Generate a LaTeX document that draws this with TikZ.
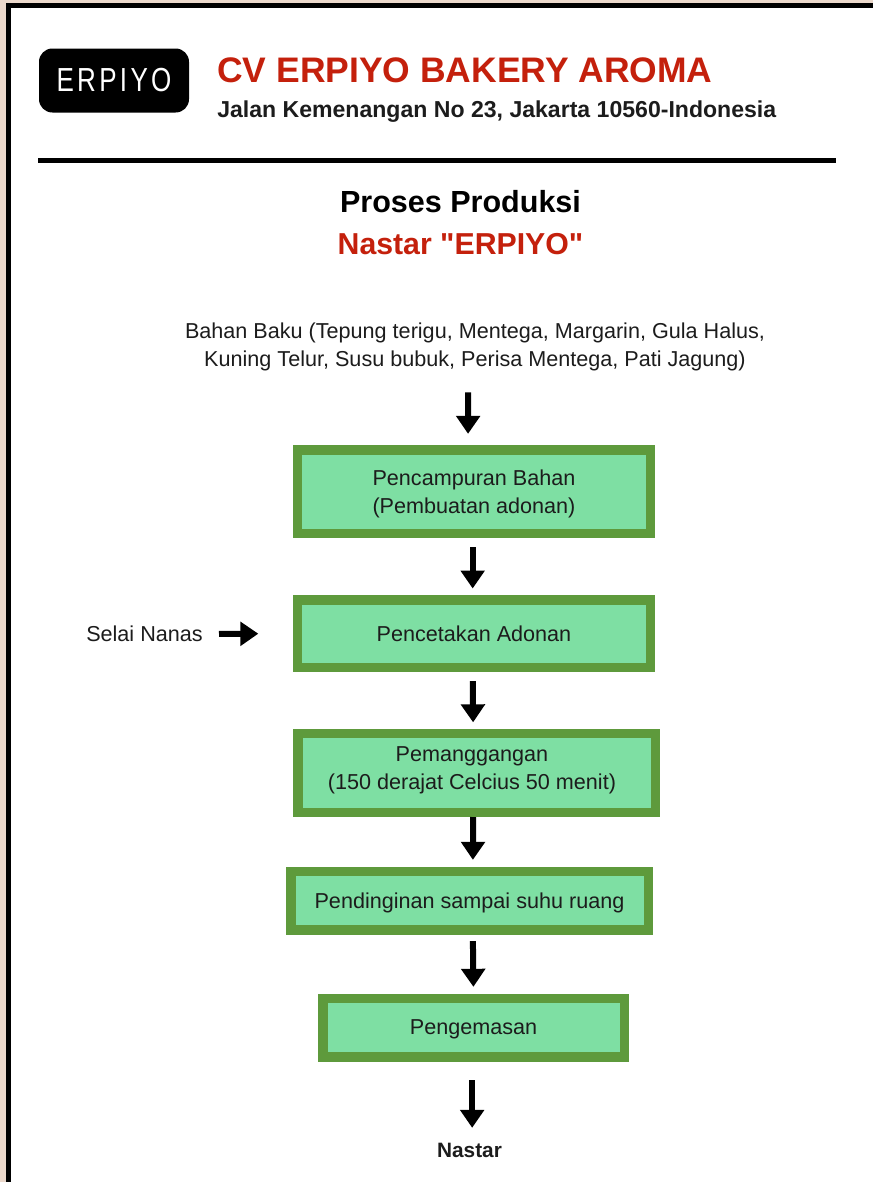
\documentclass[tikz,border=0pt]{standalone}
\usepackage{fontspec}
\setmainfont{Liberation Sans}
\newfontfamily\rawfont{Liberation Sans}
\newfontfamily\logofont[FakeStretch=0.78,LetterSpace=10]{Liberation Sans}
\usetikzlibrary{arrows.meta}
\definecolor{backcol}{HTML}{EBD8CB}
\definecolor{titlered}{HTML}{C4200C}
\definecolor{boxfill}{HTML}{7EDFA3}
\definecolor{boxline}{HTML}{5E9A3C}
\definecolor{textcol}{HTML}{1C1C1C}
\tikzset{
  prosesbox/.style={draw=boxline, fill=boxfill, line width=7pt, align=center,
    inner sep=0pt, text=textcol, text depth=0pt, font=\fontsize{16.2}{21}\selectfont},
  plain/.style={align=center, inner sep=0pt, text=textcol, font=\fontsize{16.2}{21}\selectfont},
  flow/.style={-{Triangle[length=13.5pt,width=17.5pt]}, line width=4.5pt, black}
}
\begin{document}
\begin{tikzpicture}[x=0.75pt, y=-0.75pt]
  \useasboundingbox (0, 0) rectangle (873, 1182);
  \fill[backcol] (0, 0) rectangle (873, 1182);
  \filldraw[fill=white, draw=black, line width=3.8pt] (8.5, 5.5) rectangle (880, 1200);

  % header
  \node[fill=black, rounded corners=10pt, minimum width=112.5pt, minimum height=48pt, inner sep=0pt,
    text=white, font=\logofont\fontsize{25}{25}\selectfont] (logo) at (114, 80.5) {ERPIYO};
  \node[anchor=west, inner sep=0pt, text=titlered, font=\fontsize{26.6}{26.6}\selectfont\bfseries]
    (company) at (217, 70) {CV ERPIYO BAKERY AROMA};
  \node[anchor=west, inner sep=0pt, text=textcol, font=\fontsize{17.3}{17.3}\selectfont\bfseries]
    (address) at (217, 112) {Jalan Kemenangan No 23, Jakarta 10560-Indonesia};
  \draw[line width=3.8pt, black] (38, 160.5) -- (836, 160.5);

  \node[inner sep=0pt, font=\fontsize{22.9}{22.9}\selectfont\bfseries] (judul) at (460.5, 202) {Proses Produksi};
  \node[inner sep=0pt, text=titlered, font=\rawfont\fontsize{22.7}{22.7}\selectfont\bfseries] (produk) at (460.5, 244) {Nastar "ERPIYO"};

  % boxes
  \node[plain, text depth=0pt] (bahan) at (475, 345) {Bahan Baku (Tepung terigu, Mentega, Margarin, Gula Halus,\\Kuning Telur, Susu bubuk, Perisa Mentega, Pati Jagung)};
  \node[prosesbox, minimum width=264.5pt, minimum height=62.5pt] (campur) at (474, 491.5) {Pencampuran Bahan\\(Pembuatan adonan)};
  \node[prosesbox, minimum width=264.5pt, minimum height=50.5pt] (cetak) at (474, 633.5) {Pencetakan Adonan};
  \node[prosesbox, text depth=7.2pt, minimum width=268pt, minimum height=59pt] (panggang) at (476.5, 773) {Pemanggangan\hspace*{6.8pt}\\(150 derajat Celcius 50 menit)\hspace*{6.8pt}};
  \node[prosesbox, minimum width=268pt, minimum height=44pt] (dingin) at (469.5, 900.5) {Pendinginan sampai suhu ruang};
  \node[prosesbox, minimum width=226pt, minimum height=44pt] (kemas) at (473.5, 1027.5) {Pengemasan};
  \node[plain, font=\fontsize{15.6}{15.6}\selectfont\bfseries] (nastar) at (469.5, 1150) {Nastar};
  \node[plain] (selai) at (144.5, 634) {Selai Nanas};

  % arrows
  \draw[flow, shorten <=19pt, shorten >=8.5pt] ([xshift=-5pt]bahan.south) -- ([xshift=-4.5pt]campur.north);
  \draw[flow, shorten <=7pt, shorten >=5pt] ([xshift=-1pt]campur.south) -- ([xshift=-1pt]cetak.north);
  \draw[flow, shorten <=7pt, shorten >=5pt] ([xshift=-1pt]cetak.south) -- ([xshift=-2.5pt]panggang.north);
  \draw[flow, shorten <=0pt, shorten >=5pt] ([xshift=-2.5pt]panggang.south) -- ([xshift=2.5pt]dingin.north);
  \draw[flow, shorten <=5pt, shorten >=5pt] ([xshift=2.5pt]dingin.south) -- (kemas.north);
  \draw[flow, shorten <=14pt, shorten >=11pt] ([xshift=-1pt]kemas.south) -- ([xshift=2pt]nastar.north);
  \draw[flow, shorten <=12pt, shorten >=26pt] (selai.east) -- (cetak.west);
\end{tikzpicture}
\end{document}
